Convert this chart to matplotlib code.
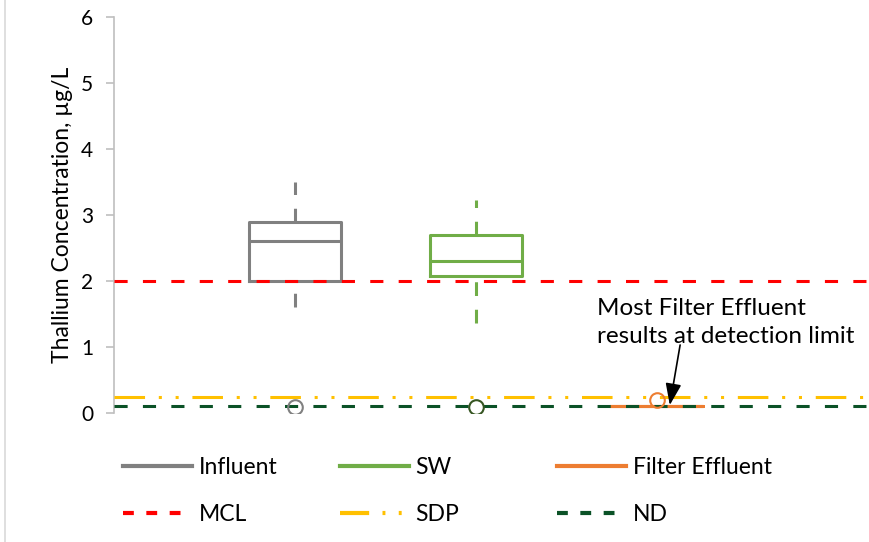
import matplotlib.pyplot as plt
from matplotlib.lines import Line2D

plt.rcParams['font.family'] = ['Lato', 'DejaVu Sans']

# box statistics per sample location (ug/L)
groups = ['Influent', 'SW', 'Filter Effluent']
positions = [1, 2, 3]
q1 = [2.0, 2.07, 0.1]
med = [2.6, 2.3, 0.1]
q3 = [2.9, 2.7, 0.1]
whis_lo = [1.6, 1.37, 0.1]
whis_hi = [3.5, 3.22, 0.1]
fliers = [[0.09], [0.09], [0.2]]
colors = ['#808080', '#70AD47', '#ED7D31']
flier_colors = ['#808080', '#375623', '#ED7D31']

# reference levels
mcl = 2.0
sdp = 0.24
nd = 0.1

fig = plt.figure(figsize=(8.69, 5.42), dpi=100)
ax = fig.add_axes([0.131, 0.238, 0.869, 0.731])

dash = (0, (4.5, 4.5))
for i, g in enumerate(groups):
    stats = [dict(med=med[i], q1=q1[i], q3=q3[i], whislo=whis_lo[i],
                  whishi=whis_hi[i], fliers=[], label=g)]
    parts = ax.bxp(stats, positions=[positions[i]], widths=0.51, showcaps=False,
                   showfliers=False, patch_artist=False,
                   boxprops=dict(color=colors[i], linewidth=2.2),
                   medianprops=dict(color=colors[i], linewidth=2.2),
                   whiskerprops=dict(color=colors[i], linewidth=2.2, linestyle=dash))
    # lower whisker dashes start from the far end
    lo = parts['whiskers'][0]
    lo.set_ydata(lo.get_ydata()[::-1])
    ax.plot([positions[i]] * len(fliers[i]), fliers[i], 'o', ms=10.5,
            mfc='none', mec=flier_colors[i], mew=1.5, zorder=5)

ax.axhline(mcl, color='#FF0000', lw=2.2, ls=(0, (4.3, 5)), zorder=3)
ax.axhline(sdp, color='#FFC000', lw=2.2, ls=(0, (10, 4.5, 1, 4.5, 1, 4.5)), zorder=3)
ax.axhline(nd, color='#0B5227', lw=2.2, ls=(0, (4.3, 5)), zorder=3)

ax.set_xlim(0, 4.17)
ax.set_ylim(0, 6)
ax.set_yticks(range(7))
ax.set_xticks([])
for s in ['top', 'right', 'bottom']:
    ax.spines[s].set_visible(False)
ax.spines['left'].set_color('#BFBFBF')
ax.spines['left'].set_linewidth(1.2)
ax.tick_params(axis='y', direction='out', length=6, width=1.2, color='#BFBFBF',
               labelsize=15, labelcolor='#000000', pad=9)
ax.set_ylabel('Thallium Concentration, µg/L', fontsize=16.5, labelpad=6)

ax.text(2.67, 1.37, 'Most Filter Effluent\nresults at detection limit',
        fontsize=17.5, ha='left', va='center', linespacing=1.4)
ax.annotate('', xy=(3.07, 0.12), xytext=(3.127, 1.03),
            arrowprops=dict(arrowstyle='-|>,head_length=0.6,head_width=0.22',
                            color='black', lw=1.2, mutation_scale=22,
                            shrinkA=0, shrinkB=0))

# legend: three equal-width columns, two rows
legend_cols = [
    ([Line2D([], [], color=colors[0], lw=3),
      Line2D([], [], color='#FF0000', lw=3, ls=(0, (2.6, 3.0)))],
     ['Influent', 'MCL']),
    ([Line2D([], [], color=colors[1], lw=3),
      Line2D([], [], color='#FFC000', lw=3, ls=(0, (7, 3.2, 0.7, 3.2, 0.7)))],
     ['SW', 'SDP']),
    ([Line2D([], [], color=colors[2], lw=3),
      Line2D([], [], color='#0B5227', lw=3, ls=(0, (2.6, 3.0)))],
     ['Filter Effluent', 'ND']),
]
col_x = [0.142, 0.391, 0.641]
for x, (h, l) in zip(col_x, legend_cols):
    fig.legend(h, l, loc='upper left', bbox_to_anchor=(x, 0.157),
               frameon=False, fontsize=16.5, borderpad=0, borderaxespad=0,
               handlelength=3.0, handletextpad=0.3, labelspacing=1.12)

# chart area border on the left
fig.add_artist(Line2D([0.006, 0.006], [0, 1], color='#D9D9D9', lw=1.2))

fig.savefig('out.png', dpi=100)
